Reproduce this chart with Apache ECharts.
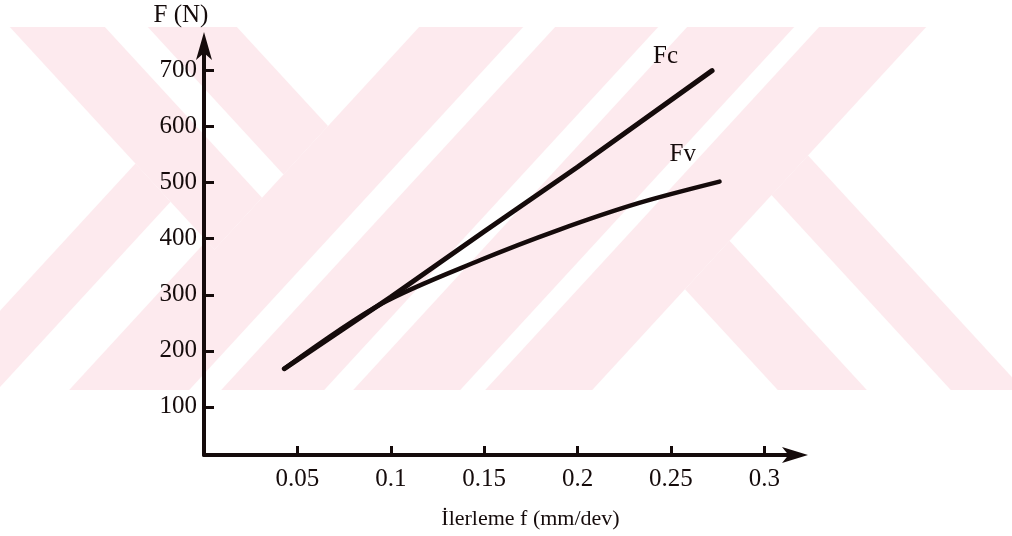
<!DOCTYPE html>
<html>
<head>
<meta charset="utf-8">
<script src="https://cdn.jsdelivr.net/npm/echarts@6/dist/echarts.min.js"></script>
<style>html,body{margin:0;padding:0;background:#fff}#c{width:1012px;height:536px}</style>
</head>
<body>
<div id="c"></div>
<script>
// ---- data ----
const xTickValues = [0.05, 0.1, 0.15, 0.2, 0.25, 0.3];
const yTickValues = [100, 200, 300, 400, 500, 600, 700];
const fcFeed = [0.043, 0.1, 0.15, 0.2, 0.272];
const fcForce = [168, 296, 413, 528, 700];
const fvFeed = [0.043, 0.095, 0.148, 0.19, 0.233, 0.276];
const fvForce = [168, 284, 362, 416, 464, 502];
const seriesNames = ['Fc', 'Fv'];
const xTitle = 'İlerleme f (mm/dev)';
const yTitle = 'F (N)';

// ---- background watermark (decoration) ----
const K = 0.92;
function clip(poly, a, b, c) {
  const out = [];
  for (let i = 0; i < poly.length; i++) {
    const p = poly[i], q = poly[(i + 1) % poly.length];
    const fp = a * p[0] + b * p[1] + c, fq = a * q[0] + b * q[1] + c;
    if (fp >= 0) out.push(p);
    if ((fp >= 0) !== (fq >= 0)) {
      const r = fp / (fp - fq);
      out.push([p[0] + r * (q[0] - p[0]), p[1] + r * (q[1] - p[1])]);
    }
  }
  return out;
}
const sGE = v => [1, K, -v], sLE = v => [-1, -K, v], tGE = v => [1, -K, -v], tLE = v => [-1, K, v];
const bands = [
  [sGE(444), sLE(548)], [sGE(580), sLE(683)], [sGE(712), sLE(819)], [sGE(844), sLE(951)],
  [tGE(-15), tLE(80), sLE(444)], [tGE(123), tLE(212), sLE(444)],
  [tGE(592), tLE(665), sGE(951)], [tGE(419), tLE(508), sGE(951)],
  [sGE(286), sLE(356), tLE(-15)], [sGE(428), sLE(517), tLE(-15)]
];
const wm = bands.map(cons => {
  let poly = [[0, 27], [1012, 27], [1012, 390], [0, 390]];
  cons.forEach(h => { poly = clip(poly, h[0], h[1], h[2]); });
  return { type: 'polygon', silent: true, z: -10, shape: { points: poly }, style: { fill: '#fdeaee' } };
});

const font = 'Liberation Serif';
const ink = '#150b0b';
const chart = echarts.init(document.getElementById('c'));
chart.setOption({
  animation: false,
  backgroundColor: '#ffffff',
  graphic: wm,
  grid: { left: 204, right: 217, top: 46, bottom: 81 },
  xAxis: {
    type: 'value', min: 0, max: 0.3164,
    name: xTitle, nameLocation: 'middle', nameGap: 53,
    nameTextStyle: { fontFamily: font, fontSize: 22, color: ink, padding: [0, 0, 0, 62] },
    axisLine: { show: true, symbol: ['none', 'arrow'], symbolSize: [12, 26], symbolOffset: [0, 13], lineStyle: { color: ink, width: 4 } },
    axisTick: { show: true, inside: true, length: 9, customValues: xTickValues, lineStyle: { color: ink, width: 3 } },
    axisLabel: { customValues: xTickValues, formatter: v => String(v), fontFamily: font, fontSize: 25, color: ink, margin: 12 },
    splitLine: { show: false }
  },
  yAxis: {
    type: 'value', min: 14, max: 744,
    name: yTitle, nameLocation: 'end', nameGap: 18,
    nameTextStyle: { fontFamily: font, fontSize: 25, color: ink, align: 'center', padding: [0, 46, 0, 0] },
    axisLine: { show: true, symbol: ['none', 'arrow'], symbolSize: [12, 28], symbolOffset: [0, 14], lineStyle: { color: ink, width: 4 } },
    axisTick: { show: true, inside: true, length: 10, customValues: yTickValues, lineStyle: { color: ink, width: 3 } },
    axisLabel: { customValues: yTickValues, fontFamily: font, fontSize: 25, color: ink, margin: 7 },
    splitLine: { show: false }
  },
  series: [
    {
      name: seriesNames[0], type: 'line', symbol: 'none', z: 3,
      data: fcFeed.map((f, i) => [f, fcForce[i]]),
      lineStyle: { color: ink, width: 5, cap: 'round' },
      endLabel: { show: true, formatter: seriesNames[0], fontFamily: font, fontSize: 25, color: ink, offset: [-67, -14] }
    },
    {
      name: seriesNames[1], type: 'line', symbol: 'none', smooth: 0.3, z: 3,
      data: fvFeed.map((f, i) => [f, fvForce[i]]),
      lineStyle: { color: ink, width: 4.5, cap: 'round' },
      endLabel: { show: true, formatter: seriesNames[1], fontFamily: font, fontSize: 25, color: ink, offset: [-58, -27] }
    }
  ]
});
</script>
</body>
</html>
